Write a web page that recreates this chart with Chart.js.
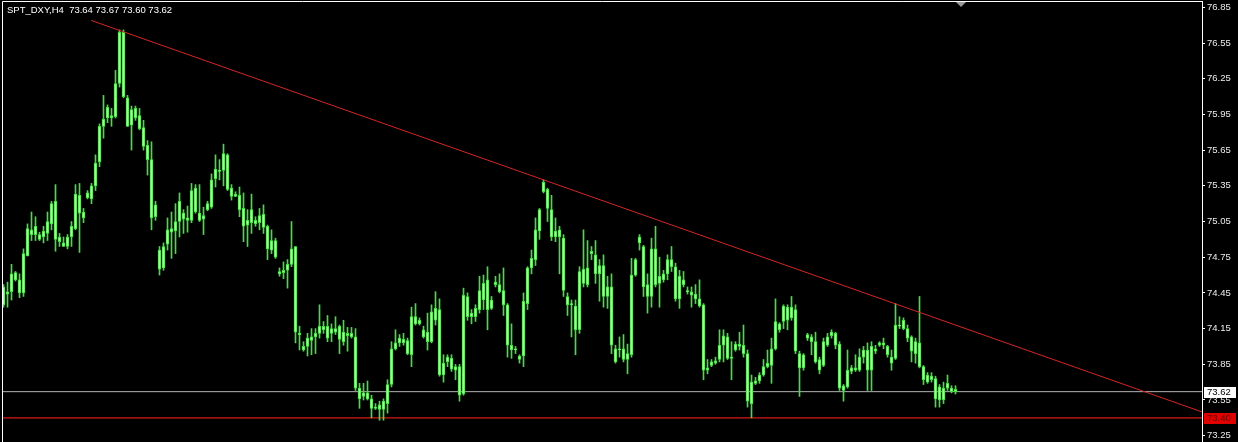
<!DOCTYPE html>
<html lang="en">
<head>
    <meta charset="UTF-8">
    <title>SPT_DXY,H4</title>
    <script src="https://cdn.jsdelivr.net/npm/chart.js@4.4.1/dist/chart.umd.min.js"></script>
    <style>
        html, body { margin: 0; padding: 0; background: #000; overflow: hidden; }
        canvas { display: block; }
    </style>
</head>
<body>
    <canvas id="myChart" width="1238" height="442"></canvas>
    <script>
        // H4 candles (body top / bottom, since all candles share one colour)
        const highs = [
            74.52,74.54,74.69,74.63,74.61,74.82,75.03,75.13,75.09,74.96,75.01,75.13,75.22,75.36,74.95,74.92,74.94,75.05,75.36,75.37,
            75.16,75.31,75.37,75.61,75.87,76.11,76.03,76.00,76.32,76.66,76.66,76.11,76.02,76.02,76.00,75.90,75.73,75.72,75.22,74.84,
            74.87,75.08,75.13,75.20,75.29,75.15,75.18,75.37,75.36,75.36,75.17,75.22,75.45,75.61,75.57,75.70,75.62,75.36,75.30,75.34,
            75.29,75.15,75.28,75.09,75.16,75.19,75.02,74.98,74.91,74.66,74.71,74.73,75.05,74.84,74.17,74.04,74.11,74.15,74.15,74.35,
            74.21,74.26,74.19,74.25,74.18,74.22,74.16,74.16,74.15,73.69,73.69,73.71,73.59,73.52,73.54,73.56,73.72,74.04,74.14,74.10,
            74.11,74.07,74.33,74.36,74.24,74.17,74.28,74.35,74.46,74.40,73.93,73.93,73.93,73.85,73.85,74.49,74.45,74.31,74.35,74.59,
            74.60,74.67,74.42,74.59,74.61,74.66,74.36,74.19,74.00,73.93,74.45,74.67,74.81,75.08,75.16,75.40,75.33,75.27,75.08,75.01,
            74.94,74.45,74.39,74.39,74.67,74.98,74.89,74.84,74.89,74.73,74.77,74.59,74.61,74.01,74.08,74.10,74.02,74.74,74.74,74.94,
            74.85,74.61,74.91,75.01,74.75,74.64,74.77,74.84,74.70,74.64,74.63,74.50,74.50,74.52,74.56,74.36,73.89,73.89,73.91,74.14,
            74.14,74.11,74.04,74.04,74.12,74.18,73.97,73.76,73.74,73.78,73.89,73.97,74.07,74.40,74.20,74.35,74.35,74.42,74.35,73.96,
            73.94,74.11,74.10,74.12,73.91,74.07,74.11,74.14,74.12,74.04,73.68,73.97,73.84,73.93,73.98,74.00,74.03,74.04,74.01,74.04,
            74.07,74.01,73.97,74.36,74.25,74.24,74.18,74.09,74.07,74.42,73.84,73.78,73.78,73.75,73.68,73.70,73.76,73.67,73.67
        ];
        const bodyTops = [
            74.50,74.46,74.61,74.62,74.56,74.78,74.99,74.98,75.01,74.94,74.97,75.05,75.20,75.22,74.92,74.87,74.92,75.01,75.28,75.27,
            75.13,75.29,75.35,75.54,75.85,75.91,76.01,75.94,76.21,76.64,76.64,76.09,75.99,76.00,75.94,75.84,75.69,75.57,75.19,74.81,
            74.84,74.98,74.99,75.05,75.22,75.12,75.08,75.31,75.33,75.12,75.10,75.20,75.40,75.49,75.48,75.62,75.61,75.33,75.28,75.27,
            75.16,75.06,75.15,75.06,75.10,75.11,75.01,74.89,74.89,74.63,74.64,74.69,74.82,74.84,74.11,74.00,74.07,74.08,74.11,74.17,
            74.17,74.17,74.15,74.15,74.17,74.12,74.11,74.11,74.08,73.65,73.61,73.61,73.56,73.49,73.51,73.54,73.68,73.98,74.03,74.07,
            74.06,74.05,74.25,74.25,74.22,74.14,74.12,74.29,74.32,74.31,73.86,73.91,73.90,73.83,73.83,74.43,74.42,74.28,74.32,74.47,
            74.53,74.56,74.39,74.54,74.52,74.47,74.35,74.01,73.98,73.92,74.38,74.66,74.74,74.98,75.15,75.38,75.32,75.15,74.97,74.98,
            74.91,74.42,74.36,74.34,74.63,74.65,74.66,74.80,74.77,74.68,74.68,74.50,74.50,73.98,73.98,73.98,73.94,74.60,74.73,74.92,
            74.84,74.52,74.82,74.82,74.59,74.61,74.73,74.73,74.67,74.59,74.56,74.47,74.46,74.44,74.40,74.35,73.82,73.87,73.88,74.01,
            74.09,74.08,73.91,74.02,74.02,74.01,73.94,73.70,73.71,73.76,73.83,73.86,73.98,74.21,74.19,74.34,74.33,74.33,74.31,73.94,
            73.93,74.10,74.08,74.04,73.89,74.04,74.08,74.12,74.11,74.02,73.67,73.80,73.82,73.82,73.91,73.97,73.97,74.00,73.98,74.03,
            74.03,74.00,73.91,74.18,74.18,74.22,74.15,74.08,74.04,74.03,73.83,73.76,73.75,73.73,73.66,73.65,73.69,73.65,73.64
        ];
        const bodyBots = [
            74.35,74.44,74.46,74.56,74.45,74.45,74.76,74.94,74.94,74.90,74.92,74.95,75.03,74.90,74.88,74.84,74.84,74.92,74.99,75.12,
            75.08,75.25,75.24,75.35,75.55,75.85,75.92,75.92,75.93,76.21,76.10,75.85,75.86,75.92,75.83,75.68,75.57,75.08,75.09,74.65,
            74.66,74.86,74.96,74.97,75.05,75.07,75.06,75.06,75.13,75.06,75.07,75.15,75.17,75.41,75.47,75.48,75.32,75.26,75.26,75.15,
            75.01,75.02,75.04,75.03,75.04,75.00,74.82,74.81,74.75,74.61,74.62,74.64,74.69,74.12,74.10,73.97,74.00,74.05,74.08,74.11,
            74.14,74.07,74.11,74.12,74.06,74.04,74.09,74.08,73.65,73.56,73.58,73.56,73.48,73.48,73.47,73.47,73.52,73.68,73.98,74.03,
            74.03,73.94,73.93,74.19,74.19,74.08,74.04,74.04,74.22,73.76,73.76,73.87,73.81,73.80,73.59,73.60,74.25,74.25,74.25,74.31,
            74.39,74.31,74.32,74.52,74.46,74.35,74.01,73.97,73.97,73.89,73.92,74.36,74.66,74.73,74.97,75.30,75.16,74.92,74.92,74.92,
            74.47,74.35,74.35,74.14,74.14,74.53,74.52,74.78,74.61,74.61,74.42,74.42,74.01,73.87,73.97,73.89,73.89,73.93,74.60,74.87,
            74.50,74.42,74.42,74.52,74.53,74.56,74.61,74.67,74.40,74.40,74.52,74.46,74.43,74.40,74.34,73.80,73.80,73.84,73.86,73.89,
            74.01,73.90,73.90,73.97,74.00,73.94,73.54,73.52,73.69,73.71,73.76,73.83,73.84,73.98,74.14,74.21,74.22,74.24,73.96,73.82,
            73.82,74.07,74.04,73.87,73.80,73.84,74.01,74.09,74.01,73.65,73.63,73.66,73.79,73.80,73.80,73.91,73.80,73.80,73.96,74.01,
            74.01,73.93,73.86,73.90,74.17,74.15,74.07,73.96,73.94,73.83,73.72,73.70,73.72,73.56,73.55,73.55,73.65,73.62,73.62
        ];
        const lows = [
            74.33,74.33,74.39,74.55,74.41,74.42,74.76,74.89,74.89,74.89,74.87,74.89,74.98,74.80,74.84,74.84,74.82,74.84,74.98,74.79,
            75.04,75.24,75.20,75.31,75.51,75.75,75.88,75.85,75.92,76.18,76.09,75.85,75.65,75.90,75.82,75.65,75.44,74.98,75.06,74.60,
            74.64,74.81,74.74,74.78,74.92,74.95,74.96,75.04,75.12,75.05,74.94,75.14,75.16,75.34,75.40,75.35,75.31,75.23,75.26,75.09,
            74.88,74.84,74.95,75.01,74.98,74.95,74.73,74.78,74.74,74.59,74.57,74.49,74.67,74.03,73.97,73.96,73.92,73.93,73.94,74.07,
            74.11,74.04,74.04,74.10,73.94,74.01,73.96,74.07,73.63,73.48,73.55,73.55,73.40,73.47,73.38,73.38,73.44,73.66,73.97,74.00,
            74.01,73.93,73.83,74.18,74.18,74.07,73.97,74.03,74.18,73.75,73.70,73.83,73.79,73.72,73.54,73.59,74.22,74.19,74.21,74.28,
            74.31,74.14,74.31,74.50,74.45,74.26,73.91,73.90,73.94,73.86,73.83,74.31,74.61,74.68,74.90,75.29,75.05,74.89,74.88,74.61,
            74.42,74.26,74.08,73.93,74.11,74.50,74.50,74.73,74.53,74.38,74.33,74.32,73.94,73.86,73.91,73.87,73.77,73.91,74.59,74.81,
            74.42,74.28,74.33,74.50,74.33,74.54,74.56,74.63,74.38,74.32,74.50,74.44,74.33,74.36,74.33,73.72,73.77,73.83,73.85,73.87,
            73.87,73.89,73.72,73.96,73.97,73.91,73.49,73.40,73.68,73.69,73.75,73.82,73.69,73.97,74.12,74.15,74.14,74.22,73.94,73.58,
            73.80,74.05,73.93,73.86,73.77,73.83,74.00,74.07,73.98,73.63,73.54,73.65,73.77,73.79,73.79,73.86,73.63,73.63,73.94,74.00,
            73.98,73.91,73.80,73.89,74.15,74.14,74.04,73.87,73.86,73.82,73.68,73.69,73.70,73.49,73.49,73.52,73.63,73.61,73.60
        ];

        const priceTicks    = [76.85,76.55,76.25,75.95,75.65,75.35,75.05,74.75,74.45,74.15,73.85,73.55,73.25];
        const symbolName    = 'SPT_DXY,H4';
        const lastOHLC      = [73.64,73.67,73.60,73.62];
        const currentPrice  = 73.62;
        const supportLevel  = 73.40;
        const trendStart    = [21.9, 76.74];   // [bar index, price]
        const trendEnd      = [299.6, 73.45];
        const xRange        = [-0.375, 299.625];  // 300 bar slots across the plot
        const yRange        = [73.197, 76.903];

        const FONT = 'Liberation Sans';
        const GREEN = '#44dd44';
        const PALE = '#b8f5ac';

        const wicks  = highs.map((h, i) => ({x: i, y: [lows[i], h]}));
        const bodies = bodyTops.map((t, i) => ({x: i, y: [bodyBots[i], t]}));

        const mt4Plugin = {
            id: 'mt4',
            beforeDraw(chart) {
                const ctx = chart.ctx;
                ctx.save();
                ctx.fillStyle = '#000';
                ctx.fillRect(0, 0, chart.width, chart.height);
                ctx.restore();
            },
            afterDraw(chart) {
                const ctx = chart.ctx;
                const a = chart.chartArea;
                const ys = chart.scales.y;
                const xs = chart.scales.x;
                ctx.save();
                // frame top + left
                ctx.strokeStyle = '#fff';
                ctx.lineWidth = 1;
                ctx.beginPath();
                ctx.moveTo(a.left + 0.5, a.bottom);
                ctx.lineTo(a.left + 0.5, a.top + 0.5);
                ctx.lineTo(a.right, a.top + 0.5);
                ctx.stroke();

                // symbol + last bar
                ctx.fillStyle = '#fff';
                ctx.font = '9.5px "' + FONT + '"';
                ctx.textBaseline = 'middle';
                ctx.textAlign = 'left';
                ctx.fillText(symbolName + '  ' + lastOHLC.map(v => v.toFixed(2)).join(' '), 7, 10);

                // price tags on the axis
                const tag = (v, bg, fg) => {
                    const py = Math.round(ys.getPixelForValue(v));
                    ctx.fillStyle = bg;
                    ctx.fillRect(a.right + 2, py - 5, 32, 11);
                    ctx.fillStyle = fg;
                    ctx.fillText(v.toFixed(2), a.right + 5, py + 0.5);
                };
                tag(currentPrice, '#ffffff', '#000000');
                tag(supportLevel, '#e00000', '#6a0000');

                // chart shift marker
                const sx = Math.round(xs.getPixelForValue(highs.length)) + 1;
                ctx.fillStyle = '#9a9a9a';
                ctx.beginPath();
                ctx.moveTo(sx - 5, a.top + 1);
                ctx.lineTo(sx + 5, a.top + 1);
                ctx.lineTo(sx, a.top + 6);
                ctx.closePath();
                ctx.fill();
                ctx.restore();
            }
        };

        const ctx = document.getElementById('myChart').getContext('2d');
        const myChart = new Chart(ctx, {
            type: 'bar',
            data: {
                datasets: [
                    {
                        type: 'line',
                        data: [{x: xRange[0], y: currentPrice}, {x: xRange[1], y: currentPrice}],
                        borderColor: '#b4b4b4',
                        borderWidth: 1,
                        pointRadius: 0,
                        order: 3
                    },
                    {
                        type: 'line',
                        data: [{x: xRange[0], y: supportLevel}, {x: xRange[1], y: supportLevel}],
                        borderColor: '#d81818',
                        borderWidth: 1.3,
                        pointRadius: 0,
                        order: 3
                    },
                    {
                        type: 'line',
                        data: [{x: trendStart[0], y: trendStart[1]}, {x: trendEnd[0], y: trendEnd[1]}],
                        borderColor: '#d42626',
                        borderWidth: 1,
                        pointRadius: 0,
                        order: 0
                    },
                    {
                        data: wicks,
                        backgroundColor: GREEN,
                        borderWidth: 0,
                        barThickness: 1,
                        grouped: false,
                        order: 2
                    },
                    {
                        data: bodies,
                        backgroundColor: PALE,
                        borderColor: GREEN,
                        borderWidth: 1,
                        borderSkipped: false,
                        barThickness: 3,
                        grouped: false,
                        order: 1
                    }
                ]
            },
            options: {
                responsive: false,
                devicePixelRatio: 1,
                animation: false,
                layout: { padding: { left: 2, top: 1, right: 0, bottom: 0 } },
                plugins: { legend: { display: false }, tooltip: { enabled: false } },
                scales: {
                    x: {
                        type: 'linear',
                        display: false,
                        offset: false,
                        min: xRange[0],
                        max: xRange[1]
                    },
                    y: {
                        position: 'right',
                        min: yRange[0],
                        max: yRange[1],
                        afterBuildTicks: s => { s.ticks = priceTicks.map(v => ({value: v})); },
                        afterFit: s => { s.width = 36; s.paddingTop = 0; s.paddingBottom = 0; },
                        border: { display: true, color: '#ffffff', width: 1 },
                        grid: { drawOnChartArea: false, drawTicks: true, tickLength: 3, tickColor: '#ffffff' },
                        ticks: {
                            color: '#ececec',
                            padding: 2,
                            font: { family: FONT, size: 9.5 },
                            callback: v => v.toFixed(2)
                        }
                    }
                }
            },
            plugins: [mt4Plugin]
        });
    </script>
</body>
</html>
